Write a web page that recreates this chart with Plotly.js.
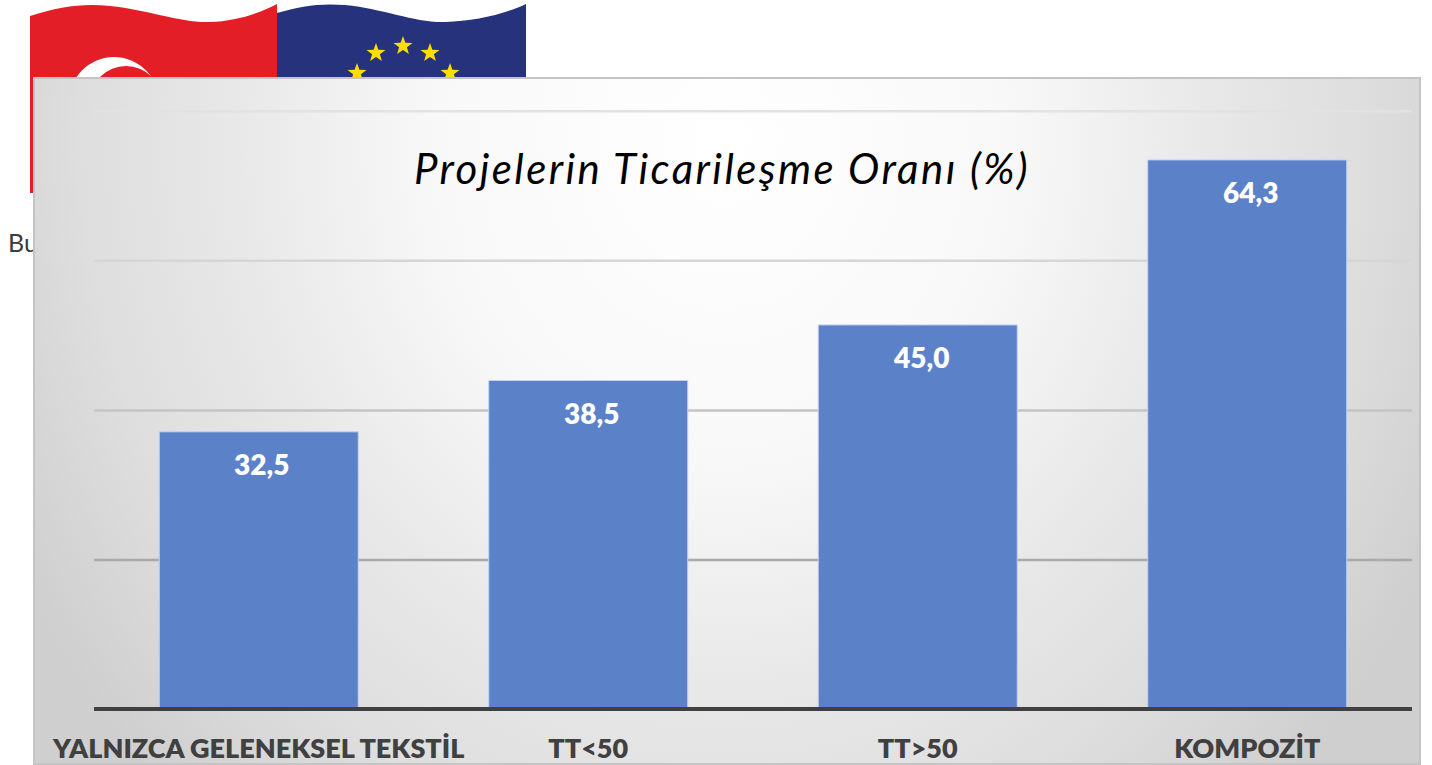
<!DOCTYPE html>
<html><head><meta charset="utf-8">
<script src="https://cdn.plot.ly/plotly-3.0.1.min.js"></script>
<style>
html,body{margin:0;padding:0;background:#fff;width:1432px;height:765px;overflow:hidden}
#back{position:absolute;left:0;top:0}
#panel{position:absolute;left:33px;top:77px;width:1384px;height:684px;border:2px solid #c4c4c4;
background:radial-gradient(ellipse 800px 900px at 687px 60px,#ffffff 0%,#f8f8f8 36%,#e8e8e8 61%,#dedede 80%,#cfcfcf 100%)}
#chart{position:absolute;left:0;top:0;width:1432px;height:765px}
.gtitle{letter-spacing:2.4px}
</style></head><body>
<svg id="back" width="1432" height="765">
<path d="M30 16 C60 6 85 3 110 6 C150 10 180 23 210 22 C235 21 258 14 277 4 L277 193 L30 193 Z" fill="#e31e26"/>
<path d="M277 13 C300 6 320 3 345 5 C385 9 415 23 445 22 C475 21 505 14 526 4 L526 193 L277 193 Z" fill="#26327c"/>
<circle cx="114" cy="102" r="45" fill="#ffffff"/>
<circle cx="126" cy="102" r="36" fill="#e31e26"/>
<g fill="#ffdd00">
<polygon id="s" points="403,36 405.4,42.7 412.5,42.9 406.9,47.2 408.9,54 403,50 397.1,54 399.1,47.2 393.5,42.9 400.6,42.7"/>
<use href="#s" x="-27" y="7"/><use href="#s" x="27" y="7"/><use href="#s" x="-46" y="27"/><use href="#s" x="47" y="27"/>
</g>
<text x="8" y="252" font-family="Lato" font-size="25" fill="#3c3c3c">Bu</text>
</svg>
<div id="panel"></div>
<div id="chart"></div>
<script>
var categories = ["YALNIZCA GELENEKSEL TEKSTİL", "TT<50", "TT>50", "KOMPOZİT"];
var values = [32.5, 38.5, 45.0, 64.3];
var gridValues = [17.5, 35, 52.5, 70];
var gridColors = ["#a9a9a9", "#c4c4c4", "#d6d6d6", "#e2e2e2"];
var chartTitle = "Projelerin Ticarileşme Oranı (%)";
function fmt(v){ return v.toFixed(1).replace(".", ","); }

var trace = {
  type: "bar", x: categories, y: values,
  marker: {color: "#5b81c9", line: {color: "#c5d3ec", width: 1}},
  hoverinfo: "x+y"
};
var layout = {
  width: 1432, height: 765, autosize: false,
  margin: {l: 94, r: 20, t: 105, b: 58, pad: 0},
  paper_bgcolor: "rgba(0,0,0,0)", plot_bgcolor: "rgba(0,0,0,0)",
  bargap: 0.396, showlegend: false,
  font: {family: "Lato", color: "#404040"},
  title: {text: chartTitle, font: {family: "Lato", size: 42, style: "italic", color: "#000000"},
          x: (722-94)/1318, xanchor: "center", xref: "paper", y: 1-169/765, yanchor: "middle", yref: "container"},
  xaxis: {type: "category", showline: true, linecolor: "#404040", linewidth: 4, ticks: "", showgrid: false,
          tickfont: {family: "Lato", size: 27, weight: 800, color: "#404040"}, automargin: false, zeroline: false, ticklabelstandoff: 15},
  yaxis: {range: [0.316, 70.72], showgrid: false, showticklabels: false, zeroline: false, ticks: "", showline: false, automargin: false},
  shapes: gridValues.map(function(v, i){
    return {type: "line", layer: "below", xref: "paper", x0: 0, x1: 1, yref: "y", y0: v, y1: v,
            line: {color: gridColors[i], width: 2.5}};
  }),
  annotations: categories.map(function(c, i){
    return {x: c, y: values[i], xref: "x", yref: "y", text: fmt(values[i]), showarrow: false,
            yanchor: "middle", yshift: -32, xshift: 3, font: {family: "Lato", size: 28, weight: 800, color: "#ffffff"}};
  })
};
Plotly.newPlot("chart", [trace], layout, {displayModeBar: false, staticPlot: true});
</script>
</body></html>
